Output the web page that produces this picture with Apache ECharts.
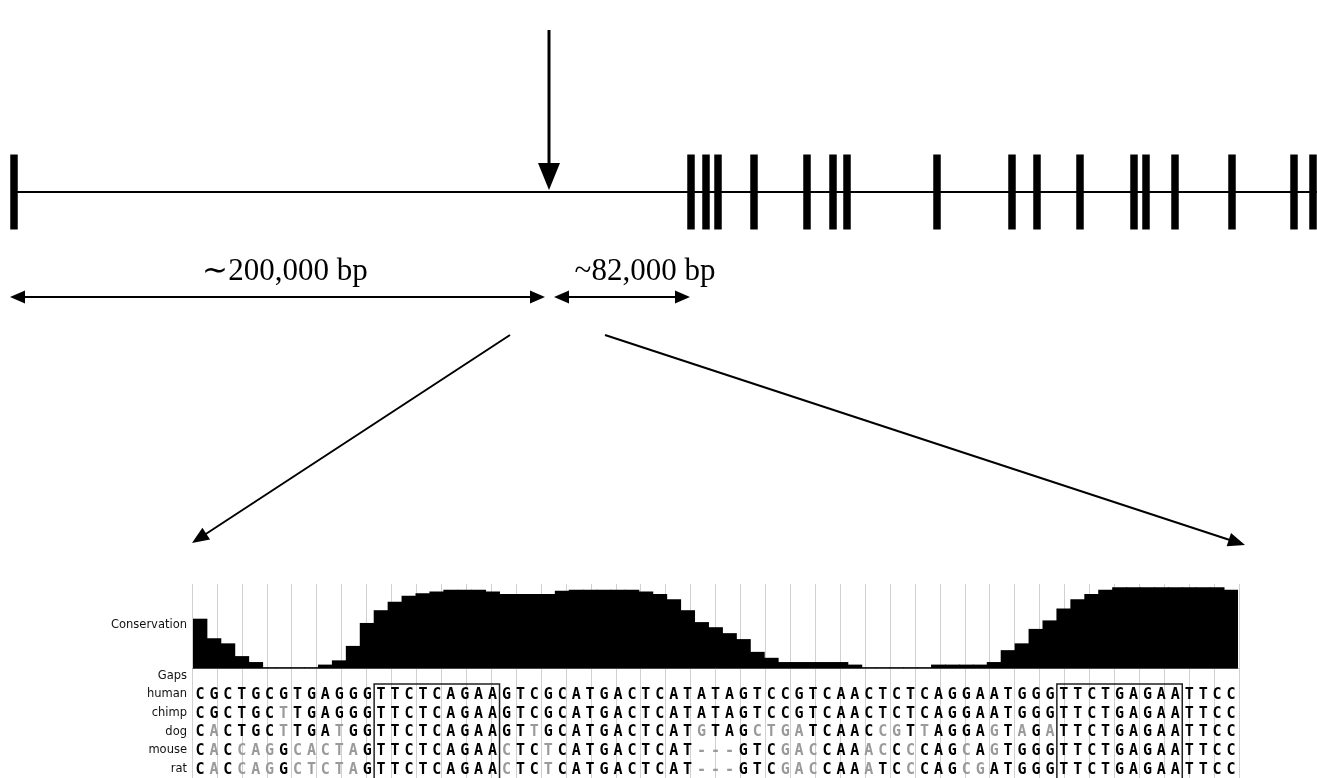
<!DOCTYPE html>
<html><head><meta charset="utf-8">
<script src="https://cdn.jsdelivr.net/npm/echarts@6/dist/echarts.min.js"></script>
<style>html,body{margin:0;padding:0;background:#fff}#c{width:1317px;height:778px}</style>
</head><body><div id="c"></div>
<script>
// ---------------- data ----------------
// schematic gene map (diagram units along the gene line)
const geneStart = 14, geneEnd = 1317;
const exonPositions = [14, 691, 706, 718, 754, 807, 833, 847, 937, 1012, 1037, 1080, 1134, 1146, 1175, 1232, 1294, 1313];
const elementPosition = 549;
const spanStarts = [10, 554];
const spanEnds = [545, 690];
const spanLabels = ['\u223C200,000 bp', '~82,000 bp'];
const spanLabelCenters = [285, 645];
const zoomFrom = [[510, 335], [605, 335]];
const zoomTo = [[192, 543], [1245, 545]];

// alignment window
const speciesNames = ['Gaps', 'human', 'chimp', 'dog', 'mouse', 'rat'];
const humanSeq = 'CGCTGCGTGAGGGTTCTCAGAAGTCGCATGACTCATATAGTCCGTCAACTCTCAGGAATGGGTTCTGAGAATTCC';
const chimpSeq = 'CGCTGCTTGAGGGTTCTCAGAAGTCGCATGACTCATATAGTCCGTCAACTCTCAGGAATGGGTTCTGAGAATTCC';
const dogSeq   = 'CACTGCTTGATGGTTCTCAGAAGTTGCATGACTCATGTAGCTGATCAACCGTTAGGAGTAGATTCTGAGAATTCC';
const mouseSeq = 'CACCAGGCACTAGTTCTCAGAACTCTCATGACTCAT---GTCGACCAAACCCCAGCAGTGGGTTCTGAGAATTCC';
const ratSeq   = 'CACCAGGCTCTAGTTCTCAGAACTCTCATGACTCAT---GTCGACCAAATCCCAGCGATGGGTTCTGAGAATTCC';
const conservation = [
  0.58,0.35,0.29,0.14,0.07,0.01,0.01,0.01,0.01,0.04,
  0.09,0.26,0.53,0.68,0.78,0.85,0.88,0.90,0.92,0.92,
  0.92,0.90,0.87,0.87,0.87,0.87,0.91,0.92,0.92,0.92,
  0.92,0.92,0.90,0.87,0.81,0.68,0.54,0.48,0.41,0.34,
  0.19,0.12,0.07,0.07,0.07,0.07,0.07,0.04,0.01,0.01,
  0.01,0.01,0.01,0.04,0.04,0.04,0.04,0.07,0.21,0.29,
  0.46,0.56,0.70,0.81,0.87,0.92,0.95,0.95,0.95,0.95,
  0.95,0.95,0.95,0.95,0.92
];
const motifStarts = [14, 63];   // 1-based positions of the boxed motifs
const motifLength = 9;
const rulerDivisions = 42;

// ---------------- build ----------------
const seqRows = [null, humanSeq, chimpSeq, dogSeq, mouseSeq, ratSeq];
const positions = humanSeq.split('').map((_, i) => String(i + 1));
const letterData = [], letterChars = [], letterGray = [];
seqRows.forEach((s, r) => {
  if (!s) return;
  s.split('').forEach((ch, i) => {
    letterData.push([i, r]);
    letterChars.push(ch);
    letterGray.push(ch === '-' || ch !== humanSeq[i]);
  });
});

const chart = echarts.init(document.getElementById('c'), null, {renderer: 'canvas'});
const geneY = 192;

function arrowShape(p1, p2, opt) {
  const dx = p2[0] - p1[0], dy = p2[1] - p1[1];
  const len = Math.sqrt(dx * dx + dy * dy);
  const ux = dx / len, uy = dy / len, nx = -uy, ny = ux;
  const L = opt.headLen, W = opt.headWidth / 2;
  const children = [];
  let a = p1.slice(), b = p2.slice();
  function head(tip, dir) {
    const bx = tip[0] - dir * ux * L, by = tip[1] - dir * uy * L;
    children.push({type: 'polygon', shape: {points: [tip, [bx + nx * W, by + ny * W], [bx - nx * W, by - ny * W]]},
      style: {fill: '#000'}});
    return [bx + dir * ux * 1, by + dir * uy * 1];
  }
  if (opt.end) b = head(p2, 1);
  if (opt.start) a = head(p1, -1);
  children.unshift({type: 'line', shape: {x1: a[0], y1: a[1], x2: b[0], y2: b[1]},
    style: {stroke: '#000', lineWidth: opt.width}});
  return children;
}

const option = {
  animation: false,
  backgroundColor: '#fff',
  grid: [
    {left: 0, top: 0, width: 1317, height: 778},                 // schematic
    {left: 192, top: 584, width: 1047, height: 200},              // ruler lines
    {left: 193, top: 583, width: 1045, height: 85},               // conservation
    {left: 193, top: 666.5, width: 1045, height: 112.5}           // alignment rows
  ],
  xAxis: [
    {gridIndex: 0, type: 'value', min: 0, max: 1317, show: false},
    {gridIndex: 1, type: 'value', min: 0, max: rulerDivisions, interval: 1,
      axisLine: {show: false}, axisTick: {show: false}, axisLabel: {show: false},
      splitLine: {show: true, lineStyle: {color: '#d0d0d0', width: 1}}},
    {gridIndex: 2, type: 'category', data: positions, axisTick: {show: false}, axisLabel: {show: false},
      axisLine: {show: true, lineStyle: {color: '#444', width: 1}}},
    {gridIndex: 3, type: 'category', data: positions, show: false}
  ],
  yAxis: [
    {gridIndex: 0, type: 'value', min: 0, max: 778, inverse: true, show: false},
    {gridIndex: 1, type: 'value', min: 0, max: 1, show: false},
    {gridIndex: 2, type: 'value', min: 0, max: 1, axisLine: {show: false}, axisTick: {show: false},
      axisLabel: {show: false}, splitLine: {show: false},
      name: 'Conservation', nameLocation: 'middle', nameRotate: 0, nameGap: 6,
      nameTextStyle: {align: 'right', verticalAlign: 'middle', fontFamily: 'DejaVu Sans', fontSize: 11.5, color: '#111'}},
    {gridIndex: 3, type: 'category', data: speciesNames, inverse: true,
      axisLine: {show: false}, axisTick: {show: false}, splitLine: {show: false},
      axisLabel: {margin: 6, fontFamily: 'DejaVu Sans', fontSize: 11.5, color: '#111'}}
  ],
  series: [
    // gene line
    {type: 'line', xAxisIndex: 0, yAxisIndex: 0, symbol: 'none', silent: true,
      data: [[geneStart, geneY], [geneEnd, geneY]], lineStyle: {color: '#000', width: 2}},
    // exons
    {type: 'scatter', xAxisIndex: 0, yAxisIndex: 0, symbol: 'rect', symbolSize: [7.5, 75], silent: true,
      data: exonPositions.map(x => [x, geneY]), itemStyle: {color: '#000', opacity: 1}},
    // element arrow
    {type: 'custom', xAxisIndex: 0, yAxisIndex: 0, silent: true, data: [[elementPosition]],
      renderItem: (params, api) => {
        const top = api.coord([api.value(0), 30]);
        const tip = api.coord([api.value(0), geneY - 2]);
        return {type: 'group', children: arrowShape(top, tip, {end: true, headLen: 27, headWidth: 22, width: 3})};
      }},
    // span arrows with labels
    {type: 'custom', xAxisIndex: 0, yAxisIndex: 0, silent: true,
      data: spanStarts.map((s, i) => [s, spanEnds[i], spanLabelCenters[i]]),
      renderItem: (params, api) => {
        const a = api.coord([api.value(0), 297]);
        const b = api.coord([api.value(1), 297]);
        const t = api.coord([api.value(2), 287]);
        const ch = arrowShape(a, b, {start: true, end: true, headLen: 15, headWidth: 13, width: 2});
        ch.push({type: 'text', x: t[0], y: t[1],
          style: {text: spanLabels[params.dataIndex], font: '31px "Liberation Serif"', fill: '#000',
            align: 'center', verticalAlign: 'bottom'}});
        return {type: 'group', children: ch};
      }},
    // zoom lines
    {type: 'custom', xAxisIndex: 0, yAxisIndex: 0, silent: true,
      data: zoomFrom.map((f, i) => [f[0], f[1], zoomTo[i][0], zoomTo[i][1]]),
      renderItem: (params, api) => {
        const a = api.coord([api.value(0), api.value(1)]);
        const b = api.coord([api.value(2), api.value(3)]);
        return {type: 'group', children: arrowShape(a, b, {end: true, headLen: 17, headWidth: 14, width: 2})};
      }},
    // ruler grid placeholder
    {type: 'line', xAxisIndex: 1, yAxisIndex: 1, data: [], silent: true},
    // conservation
    {type: 'bar', xAxisIndex: 2, yAxisIndex: 2, data: conservation, barWidth: 14.8, barGap: '-100%',
      silent: true, z: 5, itemStyle: {color: '#000', borderWidth: 0}},
    // sequence letters
    {type: 'custom', xAxisIndex: 3, yAxisIndex: 3, silent: true, z: 5, data: letterData,
      renderItem: (params, api) => {
        const p = api.coord([api.value(0), api.value(1)]);
        const i = params.dataIndex;
        return {type: 'text', x: p[0], y: p[1] + 1,
          style: {text: letterChars[i], font: 'bold 15px "DejaVu Sans Mono"',
            fill: letterGray[i] ? '#9a9a9a' : '#000', align: 'center', verticalAlign: 'middle'}};
      }},
    // motif boxes
    {type: 'custom', xAxisIndex: 3, yAxisIndex: 3, silent: true, z: 6,
      data: motifStarts.map(s => [s - 1, s - 2 + motifLength]),
      renderItem: (params, api) => {
        const bw = api.size([1, 0])[0];
        const rh = api.size([0, 1])[1];
        const a = api.coord([api.value(0), 1]);
        const b = api.coord([api.value(1), 5]);
        const x1 = a[0] - bw / 2, x2 = b[0] + bw / 2;
        const y1 = a[1] - rh / 2 - 1, y2 = b[1] + rh;
        return {type: 'polyline', shape: {points: [[x1, y2], [x1, y1], [x2, y1], [x2, y2]]},
          style: {stroke: '#222', lineWidth: 1.5, fill: null}};
      }}
  ]
};
chart.setOption(option);
</script></body></html>
